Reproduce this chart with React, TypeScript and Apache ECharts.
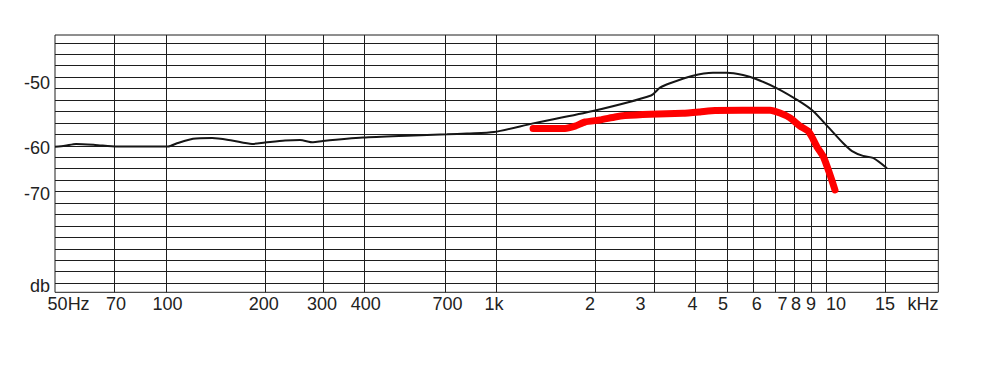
import React, { useEffect, useRef } from "react";
import * as echarts from "echarts";

// Black response curve (frequency in Hz, level in dB)
const blackFreq = [46.2, 49.5, 53.5, 61.1, 71.2, 101.6, 108.1, 120.9, 138, 158.6, 182.4, 199.6, 229.6, 254.8, 279, 299, 395.3, 537, 710, 816, 984.7, 1293, 1963, 2941, 3132, 3357, 3914, 4531, 4995, 5584, 6114, 7078, 8193, 9096, 10170, 11210, 11940, 12890, 13820, 15230];
const blackDb = [-60.2, -60.0, -59.6, -59.8, -60.15, -60.15, -59.45, -58.45, -58.3, -58.85, -59.6, -59.3, -58.85, -58.75, -59.25, -58.95, -58.2, -57.8, -57.5, -57.3, -57.0, -55.1, -52.4, -49.0, -47.3, -46.35, -44.75, -44.05, -44.05, -44.55, -45.4, -47.45, -50.1, -52.4, -56.1, -59.4, -61.15, -62.2, -62.65, -64.9];

// Red response curve
const redFreq = [1293, 1615, 1732, 1857, 2062, 2289, 2454, 2921, 3676, 4139, 4595, 6742, 7225, 7750, 8308, 8785, 9033, 9353, 9752, 10170, 10602];
const redDb = [-56.2, -56.2, -55.7, -54.8, -54.35, -53.7, -53.4, -53.1, -52.9, -52.6, -52.3, -52.25, -52.85, -53.9, -55.7, -56.75, -58.1, -60.25, -62.2, -65.7, -69.65];

// Axis ranges
const xMinFreq = 46.2;
const xMaxFreq = 21780;
const yMinDb = -92;
const yMaxDb = -35.8;

// Vertical grid lines (Hz)
const xGridFreqs = [70, 100, 200, 300, 400, 700, 1000, 2000, 3000, 4000, 5000, 6000, 7000, 8000, 9000, 10000, 15000];
// X tick labels: where each label sits on the frequency axis (Hz), and its text
const xLabelPos = [50.8, 70.7, 101.2, 197.8, 297, 403, 712, 985, 1923, 2734, 3928, 4858, 6143, 7355, 8077, 8968, 10677, 15025, 19575];
const xLabelTexts = ["50Hz", "70", "100", "200", "300", "400", "700", "1k", "2", "3", "4", "5", "6", "7", "8", "9", "10", "15", "kHz"];

// Horizontal grid lines (dB)
const yGridDb = [-37.5, -40, -42.5, -45, -47.5, -50, -52.5, -55, -57.5, -60, -62.5, -65, -67.5, -70, -72.5, -75, -77.5, -80, -82.5, -85, -87.5, -90];
// Y tick labels: where each label sits on the level axis, and its text
const yLabelPos = [-46.35, -60.55, -70.6, -90.6];
const yLabelTexts = ["-50", "-60", "-70", "db"];

const FONT = "'Liberation Sans', Arial, Helvetica, sans-serif";
const GRID_COLOR = "#1e1e1e";

function nearestText(value: number, values: number[], texts: string[]): string {
  let best = 0;
  let bestD = Infinity;
  values.forEach((v, i) => {
    const d = Math.abs(v - value);
    if (d < bestD) {
      bestD = d;
      best = i;
    }
  });
  return bestD < 0.01 ? texts[best] : "";
}

export default function App() {
  const ref = useRef<HTMLDivElement>(null);

  useEffect(() => {
    if (!ref.current) return;
    const chart = echarts.init(ref.current, null, { renderer: "svg" });
    const xLabelVals = xLabelPos.map((f) => Math.log10(f));

    chart.setOption({
      animation: false,
      backgroundColor: "#ffffff",
      grid: {
        left: 55,
        right: 42.7,
        top: 35,
        bottom: 75.7,
        show: true,
        borderColor: GRID_COLOR,
        borderWidth: 1,
        backgroundColor: "transparent",
        containLabel: false,
        outerBoundsMode: "none",
      },
      xAxis: {
        type: "value",
        min: Math.log10(xMinFreq),
        max: Math.log10(xMaxFreq),
        axisLine: { show: false },
        axisTick: { show: false, customValues: xGridFreqs.map((f) => Math.log10(f)) },
        splitLine: { show: true, lineStyle: { color: GRID_COLOR, width: 1 } },
        axisLabel: {
          customValues: xLabelVals,
          formatter: (v: number) => nearestText(v, xLabelVals, xLabelTexts),
          fontSize: 18,
          color: "#222",
          fontFamily: FONT,
          margin: 3,
          showMinLabel: true,
          showMaxLabel: true,
        },
      },
      yAxis: {
        type: "value",
        min: yMinDb,
        max: yMaxDb,
        axisLine: { show: false },
        axisTick: { show: false, customValues: yGridDb },
        splitLine: { show: true, lineStyle: { color: GRID_COLOR, width: 1 } },
        axisLabel: {
          customValues: yLabelPos,
          formatter: (v: number) => nearestText(v, yLabelPos, yLabelTexts),
          fontSize: 18,
          color: "#222",
          fontFamily: FONT,
          margin: 5,
        },
      },
      series: [
        {
          type: "line",
          data: blackFreq.map((f, i) => [Math.log10(f), blackDb[i]]),
          showSymbol: false,
          smooth: 0.25,
          lineStyle: { color: "#161616", width: 2 },
          z: 3,
        },
        {
          type: "line",
          data: redFreq.map((f, i) => [Math.log10(f), redDb[i]]),
          showSymbol: false,
          smooth: 0.15,
          lineStyle: { color: "#ff0000", width: 7, cap: "round", join: "round" },
          z: 4,
        },
      ],
    });

    return () => chart.dispose();
  }, []);

  return (
    <div
      ref={ref}
      style={{ position: "absolute", left: 0, top: 0, width: 981, height: 368, background: "#fff" }}
    />
  );
}
